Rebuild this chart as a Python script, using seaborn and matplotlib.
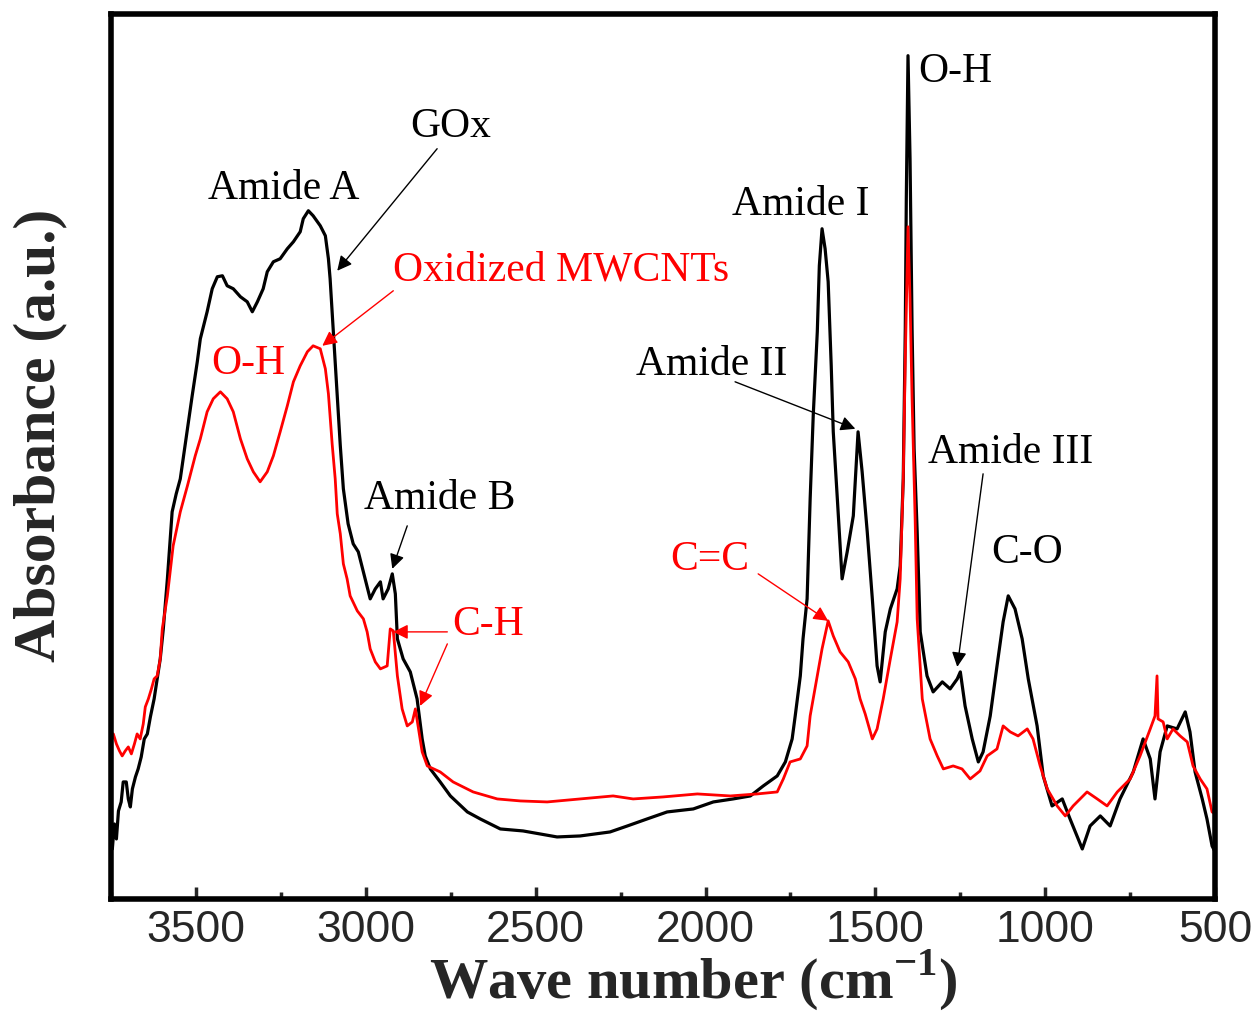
import numpy as np
import pandas as pd
import matplotlib
matplotlib.use("Agg")
import matplotlib.pyplot as plt
from matplotlib.ticker import MultipleLocator
import seaborn as sns

# ---- data (wave number in cm^-1, absorbance in a.u.) ----
gox_wn = [3746, 3740, 3734, 3728, 3720, 3714, 3705, 3699, 3693, 3687, 3678, 3670, 3661, 3652,
          3643, 3634, 3623, 3614, 3605, 3596, 3584, 3570, 3558, 3546, 3525, 3511, 3496, 3487,
          3467, 3452, 3437, 3422, 3408, 3390, 3369, 3349, 3334, 3319, 3302, 3290, 3272, 3252,
          3231, 3213, 3193, 3184, 3169, 3155, 3134, 3119, 3110, 3105, 3099, 3093, 3084, 3075,
          3066, 3052, 3037, 3022, 3007, 2987, 2972, 2957, 2949, 2934, 2922, 2913, 2907, 2890,
          2869, 2849, 2834, 2825, 2810, 2781, 2751, 2701, 2663, 2604, 2537, 2437, 2369, 2281,
          2230, 2172, 2113, 2036, 1977, 1919, 1868, 1830, 1789, 1765, 1745, 1736, 1721, 1713,
          1701, 1692, 1683, 1671, 1665, 1657, 1648, 1639, 1630, 1624, 1612, 1598, 1583, 1565,
          1551, 1539, 1524, 1509, 1495, 1486, 1471, 1456, 1436, 1427, 1418, 1412, 1409, 1404,
          1398, 1392, 1386, 1377, 1368, 1348, 1330, 1303, 1280, 1259, 1250, 1236, 1215, 1197,
          1183, 1162, 1142, 1124, 1109, 1089, 1068, 1050, 1024, 1006, 980, 950, 927, 891, 868,
          838, 809, 780, 741, 712, 691, 677, 662, 641, 612, 588, 574, 559, 538, 524, 509, 500]
gox_abs = [0.050, 0.075, 0.060, 0.088, 0.097, 0.117, 0.117, 0.100, 0.092, 0.110, 0.122, 0.130,
           0.142, 0.160, 0.165, 0.182, 0.200, 0.220, 0.240, 0.270, 0.320, 0.387, 0.405, 0.420,
           0.470, 0.503, 0.537, 0.560, 0.587, 0.610, 0.622, 0.623, 0.613, 0.610, 0.602, 0.597,
           0.587, 0.597, 0.610, 0.627, 0.637, 0.640, 0.650, 0.657, 0.667, 0.680, 0.688, 0.683,
           0.673, 0.663, 0.640, 0.620, 0.587, 0.553, 0.503, 0.453, 0.410, 0.375, 0.355, 0.347,
           0.327, 0.300, 0.310, 0.317, 0.300, 0.310, 0.325, 0.305, 0.260, 0.240, 0.227, 0.200,
           0.160, 0.143, 0.130, 0.117, 0.103, 0.087, 0.080, 0.070, 0.068, 0.062, 0.063, 0.067,
           0.073, 0.080, 0.087, 0.090, 0.097, 0.100, 0.103, 0.113, 0.123, 0.137, 0.160, 0.183,
           0.223, 0.260, 0.300, 0.400, 0.483, 0.567, 0.633, 0.670, 0.650, 0.617, 0.533, 0.467,
           0.400, 0.320, 0.347, 0.383, 0.467, 0.427, 0.367, 0.300, 0.233, 0.217, 0.267, 0.290,
           0.310, 0.333, 0.420, 0.570, 0.700, 0.843, 0.740, 0.570, 0.450, 0.367, 0.267, 0.223,
           0.207, 0.217, 0.210, 0.220, 0.227, 0.193, 0.160, 0.137, 0.147, 0.183, 0.233, 0.277,
           0.303, 0.290, 0.260, 0.220, 0.173, 0.123, 0.093, 0.100, 0.080, 0.050, 0.073, 0.083,
           0.073, 0.100, 0.127, 0.160, 0.140, 0.100, 0.147, 0.173, 0.170, 0.187, 0.167, 0.127,
           0.100, 0.080, 0.053, 0.047]

mwcnt_wn = [3747, 3743, 3734, 3725, 3717, 3708, 3699, 3690, 3681, 3673, 3664, 3655, 3649, 3640,
            3631, 3623, 3614, 3605, 3599, 3584, 3567, 3546, 3525, 3502, 3487, 3467, 3449, 3428,
            3408, 3390, 3369, 3349, 3331, 3311, 3290, 3272, 3252, 3231, 3213, 3193, 3172, 3155,
            3134, 3119, 3110, 3099, 3090, 3084, 3075, 3066, 3055, 3046, 3025, 3007, 2996, 2987,
            2972, 2957, 2937, 2928, 2919, 2907, 2893, 2878, 2863, 2854, 2846, 2834, 2819, 2781,
            2743, 2684, 2613, 2545, 2466, 2369, 2272, 2213, 2125, 2024, 1927, 1848, 1789, 1771,
            1751, 1721, 1701, 1692, 1671, 1657, 1639, 1624, 1604, 1580, 1559, 1545, 1530, 1509,
            1495, 1477, 1456, 1436, 1427, 1418, 1412, 1406, 1404, 1398, 1392, 1383, 1377, 1362,
            1339, 1318, 1300, 1271, 1245, 1221, 1192, 1171, 1142, 1124, 1103, 1080, 1053, 1036,
            1015, 994, 965, 941, 918, 877, 847, 818, 788, 750, 721, 691, 677, 671, 668, 653, 641,
            624, 603, 582, 565, 544, 524, 509, 500]
mwcnt_abs = [0.160, 0.165, 0.155, 0.148, 0.143, 0.148, 0.152, 0.145, 0.155, 0.165, 0.160, 0.175,
             0.192, 0.200, 0.210, 0.220, 0.223, 0.240, 0.270, 0.303, 0.353, 0.387, 0.413, 0.443,
             0.460, 0.487, 0.500, 0.507, 0.500, 0.487, 0.460, 0.440, 0.427, 0.417, 0.427, 0.443,
             0.467, 0.493, 0.517, 0.533, 0.547, 0.553, 0.550, 0.530, 0.505, 0.455, 0.420, 0.385,
             0.365, 0.335, 0.320, 0.303, 0.288, 0.280, 0.267, 0.250, 0.237, 0.230, 0.233, 0.270,
             0.268, 0.223, 0.190, 0.173, 0.177, 0.190, 0.173, 0.147, 0.133, 0.127, 0.117, 0.107,
             0.100, 0.098, 0.097, 0.100, 0.103, 0.100, 0.102, 0.105, 0.103, 0.105, 0.107, 0.120,
             0.137, 0.140, 0.153, 0.183, 0.223, 0.250, 0.278, 0.263, 0.247, 0.237, 0.220, 0.200,
             0.185, 0.160, 0.170, 0.200, 0.240, 0.277, 0.320, 0.420, 0.540, 0.640, 0.672, 0.600,
             0.500, 0.380, 0.280, 0.200, 0.160, 0.143, 0.130, 0.133, 0.130, 0.120, 0.128, 0.143,
             0.150, 0.173, 0.167, 0.163, 0.170, 0.160, 0.133, 0.110, 0.093, 0.083, 0.093, 0.107,
             0.100, 0.093, 0.107, 0.120, 0.143, 0.170, 0.183, 0.223, 0.180, 0.177, 0.160, 0.170,
             0.163, 0.157, 0.133, 0.120, 0.110, 0.087, 0.085]

x_ticks = [3500, 3000, 2500, 2000, 1500, 1000, 500]

# ---- styling ----
sns.set_theme(style="ticks")
plt.rcParams["font.family"] = ["Liberation Serif", "DejaVu Serif"]
plt.rcParams["mathtext.fontset"] = "custom"
plt.rcParams["mathtext.rm"] = "Liberation Serif:bold"
plt.rcParams["mathtext.bf"] = "Liberation Serif:bold"

fig = plt.figure(figsize=(12.54, 10.12), dpi=100)
ax = fig.add_axes([0.0885, 0.1107, 0.8805, 0.8748])

df_g = pd.DataFrame({"wn": gox_wn, "A": gox_abs})
df_m = pd.DataFrame({"wn": mwcnt_wn, "A": mwcnt_abs})
sns.lineplot(data=df_g, x="wn", y="A", sort=False, color="black", lw=2.3, ax=ax,
             estimator=None)
sns.lineplot(data=df_m, x="wn", y="A", sort=False, color="#ff0000", lw=2.0, ax=ax,
             estimator=None)

ax.set_xlim(3750, 500)
ax.set_ylim(0, 0.885)
ax.set_xticks(x_ticks)
ax.xaxis.set_minor_locator(MultipleLocator(250))
ax.set_yticks([])
ax.tick_params(axis="x", which="major", direction="in", length=9, width=2.5,
               labelsize=32, pad=7)
ax.tick_params(axis="x", which="minor", direction="in", length=5, width=2.5)
for lab in ax.get_xticklabels():
    lab.set_fontfamily("Liberation Sans")
for s in ax.spines.values():
    s.set_linewidth(4)
    s.set_color("black")

ax.set_xlabel(r"Wave number (cm$^{-1}$)", fontsize=42, fontweight="bold")
ax.xaxis.label.set_va("center")
ax.xaxis.set_label_coords(0.527, -0.090)
ax.set_ylabel("Absorbance (a.u.)", fontsize=43, fontweight="bold")
ax.yaxis.label.set_va("center")
ax.yaxis.set_label_coords(-0.064, 0.525)

fs = 30
def note(txt, xy, color="black"):
    ax.text(xy[0], xy[1], txt, fontsize=fs, color=color, ha="center", va="center")

def arrow(tail, head, color="black"):
    ax.annotate("", xy=head, xytext=tail,
                arrowprops=dict(arrowstyle="-|>", color=color, lw=1.0,
                                mutation_scale=22, shrinkA=0, shrinkB=0))

note("GOx", (2751, 0.773))
arrow((2790, 0.750), (3084, 0.628))
note("Amide A", (3243, 0.711))
note("Oxidized MWCNTs", (2425, 0.630), "#ff0000")
arrow((2919, 0.608), (3128, 0.553), "#ff0000")
note("O-H", (3346, 0.536), "#ff0000")
note("Amide B", (2781, 0.401))
arrow((2878, 0.373), (2922, 0.330))
note("C-H", (2640, 0.275), "#ff0000")
arrow((2760, 0.267), (2919, 0.267), "#ff0000")
arrow((2760, 0.255), (2840, 0.193), "#ff0000")
note("Amide I", (1721, 0.695))
note("Amide II", (1983, 0.535))
arrow((1913, 0.517), (1559, 0.470))
note("O-H", (1265, 0.828))
note("Amide III", (1103, 0.447))
arrow((1183, 0.425), (1259, 0.232))
note("C=C", (1989, 0.340), "#ff0000")
arrow((1845, 0.325), (1639, 0.278), "#ff0000")
note("C-O", (1053, 0.347))

fig.savefig("out.png", dpi=100)
